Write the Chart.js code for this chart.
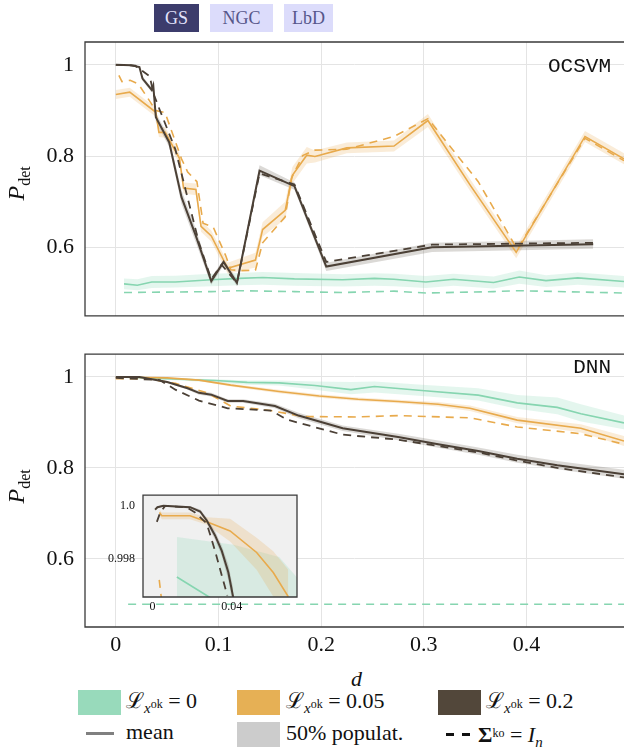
<!DOCTYPE html>
<html>
<head>
<meta charset="utf-8">
<script src="https://cdn.jsdelivr.net/npm/chart.js@4.4.0/dist/chart.umd.min.js"></script>
<style>
  html, body { margin: 0; padding: 0; background: #fff; }
  body { width: 624px; height: 750px; position: relative; overflow: hidden; font-family: "Liberation Serif", serif; color: #111; }
  canvas { position: absolute; }
  .btn { position: absolute; top: 4px; height: 28px; line-height: 29px; text-align: center; font-size: 18px; }
  .tag { position: absolute; font-family: "Liberation Mono", monospace; font-size: 21px; }
  .ylab { position: absolute; font-size: 24px; transform: rotate(-90deg); transform-origin: center; white-space: nowrap; }
  .sw { position: absolute; width: 43px; height: 25px; }
  .lt { position: absolute; font-size: 22px; line-height: 26px; white-space: nowrap; }
  .lt sub { font-size: 15px; vertical-align: -5px; }
  .lt sup { font-size: 12px; vertical-align: 5px; }
</style>
</head>
<body>
<div class="btn" style="left:154px;width:45px;background:#3c3c6c;color:#e2e2fb;">GS</div>
<div class="btn" style="left:210px;width:63px;background:#dcdcfb;color:#56568a;">NGC</div>
<div class="btn" style="left:284px;width:49px;background:#dcdcfb;color:#56568a;">LbD</div>

<canvas id="ocsvm" width="624" height="340" style="left:0;top:0;"></canvas>
<canvas id="dnn" width="624" height="330" style="left:0;top:330px;"></canvas>
<canvas id="inset" width="210" height="140" style="left:100px;top:480px;"></canvas>

<div class="tag" style="right:13px;top:55px;">OCSVM</div>
<div class="tag" style="right:13px;top:356px;">DNN</div>
<div class="ylab" style="left:1px;top:168px;"><i>P</i><sub style="font-size:16px">det</sub></div>
<div class="ylab" style="left:1px;top:471px;"><i>P</i><sub style="font-size:16px">det</sub></div>
<div class="lt" style="left:351px;top:666px;"><i>d</i></div>

<!-- legend -->
<div class="sw" style="left:78px;top:690px;background:#98dabb;"></div>
<div class="lt" style="left:126px;top:688px;">ℒ<sub><i>x</i><sup>ok</sup></sub> = 0</div>
<div class="sw" style="left:237px;top:690px;background:#e6b055;"></div>
<div class="lt" style="left:286px;top:688px;">ℒ<sub><i>x</i><sup>ok</sup></sub> = 0.05</div>
<div class="sw" style="left:438px;top:690px;background:#52473a;"></div>
<div class="lt" style="left:486px;top:688px;">ℒ<sub><i>x</i><sup>ok</sup></sub> = 0.2</div>
<div style="position:absolute;left:86px;top:732px;width:28px;height:3px;background:#808080;"></div>
<div class="lt" style="left:126px;top:719px;">mean</div>
<div class="sw" style="left:237px;top:722px;background:#cccccc;"></div>
<div class="lt" style="left:286px;top:720px;">50% populat.</div>
<div style="position:absolute;left:446px;top:733px;width:8px;height:3px;background:#111;"></div>
<div style="position:absolute;left:462px;top:733px;width:8px;height:3px;background:#111;"></div>
<div class="lt" style="left:478px;top:720px;"><b>Σ</b><sup>ko</sup> = <i>I</i><sub><i>n</i></sub></div>

<script>
// axis ticks
const xTicks = [0, 0.1, 0.2, 0.3, 0.4];
const yTicks = [0.6, 0.8, 1];
const insetXTicks = [0, 0.04];
const insetYTicks = [0.998, 1.0];

// ---- OCSVM ----
const svDarkX = [0, 0.015, 0.023, 0.026, 0.035, 0.0365, 0.039, 0.052, 0.064, 0.078, 0.093, 0.105, 0.118, 0.140, 0.174, 0.205, 0.308, 0.465];
const svDark = [1.0, 0.999, 0.995, 0.97, 0.945, 0.955, 0.885, 0.83, 0.71, 0.625, 0.526, 0.568, 0.522, 0.768, 0.734, 0.558, 0.600, 0.607];
const svDarkHi = [1.0, 1.0, 0.997, 0.975, 0.95, 0.96, 0.895, 0.84, 0.725, 0.64, 0.534, 0.574, 0.53, 0.78, 0.742, 0.566, 0.61, 0.618];
const svDarkLo = [0.999, 0.998, 0.992, 0.965, 0.94, 0.95, 0.875, 0.82, 0.695, 0.61, 0.518, 0.56, 0.515, 0.758, 0.726, 0.548, 0.59, 0.597];
const svDarkDashX = [0, 0.019, 0.033, 0.037, 0.043, 0.058, 0.081, 0.093, 0.103, 0.118, 0.140, 0.174, 0.205, 0.308, 0.465];
const svDarkDash = [1.0, 0.998, 0.975, 0.935, 0.9, 0.815, 0.61, 0.53, 0.562, 0.522, 0.762, 0.738, 0.568, 0.606, 0.610];

const svOrangeX = [0, 0.0136, 0.039, 0.042, 0.048, 0.062, 0.066, 0.078, 0.083, 0.093, 0.109, 0.136, 0.143, 0.165, 0.172, 0.186, 0.194, 0.225, 0.271, 0.304, 0.345, 0.390, 0.457, 0.495];
const svOrange = [0.935, 0.94, 0.896, 0.852, 0.852, 0.795, 0.73, 0.727, 0.646, 0.625, 0.554, 0.572, 0.639, 0.681, 0.758, 0.802, 0.799, 0.818, 0.822, 0.878, 0.737, 0.589, 0.843, 0.794];
const svOrangeHi = [0.945, 0.95, 0.906, 0.862, 0.864, 0.807, 0.742, 0.74, 0.658, 0.637, 0.566, 0.588, 0.655, 0.7, 0.776, 0.82, 0.812, 0.83, 0.834, 0.892, 0.75, 0.602, 0.855, 0.806];
const svOrangeLo = [0.925, 0.93, 0.886, 0.842, 0.84, 0.783, 0.718, 0.714, 0.634, 0.613, 0.542, 0.556, 0.623, 0.662, 0.74, 0.784, 0.786, 0.806, 0.81, 0.864, 0.724, 0.576, 0.831, 0.782];
const svOrangeDashX = [0.003, 0.006, 0.014, 0.022, 0.039, 0.048, 0.064, 0.070, 0.079, 0.085, 0.095, 0.107, 0.112, 0.122, 0.136, 0.143, 0.165, 0.171, 0.182, 0.194, 0.225, 0.271, 0.304, 0.353, 0.391, 0.457, 0.495];
const svOrangeDash = [0.977, 0.963, 0.966, 0.958, 0.9, 0.895, 0.794, 0.765, 0.744, 0.653, 0.644, 0.582, 0.551, 0.549, 0.55, 0.61, 0.667, 0.751, 0.801, 0.813, 0.815, 0.843, 0.882, 0.744, 0.596, 0.839, 0.79];

const svGreenX = [0.008, 0.021, 0.035, 0.058, 0.093, 0.12, 0.143, 0.174, 0.221, 0.252, 0.271, 0.302, 0.329, 0.368, 0.393, 0.419, 0.45, 0.495];
const svGreen = [0.520, 0.517, 0.524, 0.524, 0.529, 0.532, 0.534, 0.531, 0.529, 0.532, 0.530, 0.524, 0.530, 0.523, 0.535, 0.527, 0.533, 0.525];
const svGreenHi = [0.532, 0.53, 0.537, 0.538, 0.542, 0.544, 0.546, 0.544, 0.541, 0.543, 0.542, 0.537, 0.542, 0.536, 0.549, 0.539, 0.545, 0.537];
const svGreenLo = [0.508, 0.506, 0.511, 0.512, 0.515, 0.517, 0.518, 0.516, 0.514, 0.516, 0.515, 0.511, 0.516, 0.51, 0.52, 0.513, 0.518, 0.512];
const svGreenDashX = [0.008, 0.093, 0.12, 0.174, 0.221, 0.271, 0.302, 0.368, 0.393, 0.495];
const svGreenDash = [0.501, 0.503, 0.505, 0.503, 0.501, 0.504, 0.5, 0.503, 0.505, 0.5];

// ---- DNN ----
const nnDarkX = [0, 0.023, 0.05, 0.07, 0.081, 0.093, 0.109, 0.124, 0.155, 0.178, 0.221, 0.275, 0.314, 0.353, 0.391, 0.43, 0.495];
const nnDark = [1.0, 1.0, 0.989, 0.975, 0.965, 0.961, 0.947, 0.947, 0.936, 0.915, 0.887, 0.868, 0.852, 0.837, 0.82, 0.806, 0.786];
const nnDarkHi = [1.0, 1.0, 0.991, 0.978, 0.969, 0.965, 0.951, 0.951, 0.941, 0.921, 0.893, 0.875, 0.86, 0.845, 0.829, 0.815, 0.796];
const nnDarkLo = [1.0, 0.999, 0.987, 0.972, 0.961, 0.957, 0.943, 0.943, 0.931, 0.909, 0.881, 0.861, 0.844, 0.829, 0.811, 0.797, 0.776];
const nnDarkDashX = [0, 0.043, 0.058, 0.081, 0.109, 0.151, 0.167, 0.198, 0.221, 0.275, 0.314, 0.353, 0.391, 0.43, 0.495];
const nnDarkDash = [0.998, 0.993, 0.972, 0.948, 0.931, 0.926, 0.906, 0.887, 0.873, 0.862, 0.848, 0.834, 0.816, 0.8, 0.779];

const nnOrangeX = [0, 0.05, 0.081, 0.112, 0.159, 0.198, 0.236, 0.275, 0.314, 0.345, 0.391, 0.453, 0.495];
const nnOrange = [1.0, 0.998, 0.993, 0.982, 0.968, 0.958, 0.951, 0.946, 0.94, 0.931, 0.905, 0.887, 0.859];
const nnOrangeHi = [1.0, 0.999, 0.995, 0.985, 0.972, 0.962, 0.955, 0.95, 0.945, 0.937, 0.912, 0.896, 0.87];
const nnOrangeLo = [1.0, 0.997, 0.991, 0.979, 0.964, 0.954, 0.947, 0.942, 0.935, 0.925, 0.898, 0.878, 0.848];
const nnOrangeDashX = [0, 0.031, 0.058, 0.089, 0.112, 0.151, 0.182, 0.236, 0.275, 0.345, 0.391, 0.453, 0.495];
const nnOrangeDash = [0.996, 0.996, 0.986, 0.965, 0.936, 0.926, 0.913, 0.912, 0.915, 0.91, 0.89, 0.875, 0.852];

const nnGreenX = [0.002, 0.031, 0.062, 0.097, 0.128, 0.159, 0.194, 0.229, 0.252, 0.298, 0.353, 0.391, 0.43, 0.453, 0.495];
const nnGreen = [1.0, 0.998, 0.995, 0.992, 0.988, 0.987, 0.981, 0.972, 0.979, 0.97, 0.96, 0.943, 0.933, 0.919, 0.899];
const nnGreenHi = [1.0, 0.999, 0.997, 0.995, 0.992, 0.992, 0.99, 0.989, 0.99, 0.983, 0.975, 0.96, 0.955, 0.94, 0.915];
const nnGreenLo = [0.999, 0.996, 0.992, 0.988, 0.983, 0.981, 0.972, 0.962, 0.966, 0.958, 0.948, 0.93, 0.918, 0.902, 0.885];
const nnGreenDashX = [0.012, 0.495];
const nnGreenDash = [0.5, 0.5];

// ---- inset (DNN, zoom near d = 0) ----
const inDarkX = [0.0013, 0.0025, 0.0055, 0.0190, 0.0241, 0.0274, 0.0316, 0.035, 0.0383, 0.0408];
const inDark = [0.99986, 0.99995, 1.0, 0.99995, 0.99979, 0.99945, 0.99889, 0.99831, 0.99751, 0.99656];
const inDarkHi = [0.9999, 0.99999, 1.00003, 0.99999, 0.99986, 0.99955, 0.99905, 0.9985, 0.9978, 0.9969];
const inDarkLo = [0.99982, 0.99991, 0.99997, 0.9999, 0.99972, 0.99935, 0.99873, 0.99812, 0.99722, 0.99622];
const inDarkDashX = [0.0022, 0.0039, 0.0064, 0.0173, 0.0215, 0.0274, 0.0316, 0.035, 0.0378];
const inDarkDash = [0.9994, 0.99975, 1.0, 0.99994, 0.99975, 0.99934, 0.99831, 0.99739, 0.99664];
const inOrangeX = [0.0035, 0.0047, 0.019, 0.0274, 0.0392, 0.0526, 0.061, 0.0686];
const inOrange = [0.99975, 0.99963, 0.99963, 0.9994, 0.99906, 0.99825, 0.9975, 0.99659];
const inOrangeHi = [0.99985, 0.99975, 0.99975, 0.99957, 0.99952, 0.9988, 0.9983, 0.9976];
const inOrangeLo = [0.99965, 0.9995, 0.9995, 0.99929, 0.99866, 0.9976, 0.9966, 0.9955];
const inOrangeDashX = [0.0034, 0.0047];
const inOrangeDash = [0.99722, 0.9964];
const inGreenX = [0.0123, 0.029, 0.05];
const inGreen = [0.99733, 0.99656, 0.9956];
const inGreenBandX = [0.0123, 0.041, 0.064, 0.0728, 0.08];
const inGreenHi = [0.99883, 0.99854, 0.99808, 0.99733, 0.997];
const inGreenLo = [0.996, 0.996, 0.996, 0.996, 0.996];

const GREEN = "#86d5b0", ORANGE = "#e8aa4c", DARK = "#4b4036";
const GREEN_BAND = "rgba(143,216,184,0.24)", ORANGE_BAND = "rgba(232,170,76,0.22)", DARK_BAND = "rgba(90,80,70,0.22)";

const pts = (xs, ys) => xs.map((x, i) => ({ x: x, y: ys[i] }));

function line(xs, ys, color, width, dashed) {
  return {
    data: pts(xs, ys), borderColor: color, borderWidth: width,
    borderDash: dashed ? [8, 6] : [], pointRadius: 0, fill: false, tension: 0,
  };
}
function band(xs, hi, lo, color) {
  return [
    { data: pts(xs, hi), borderWidth: 0, pointRadius: 0, backgroundColor: color, fill: "+1", tension: 0 },
    { data: pts(xs, lo), borderWidth: 0, pointRadius: 0, fill: false, tension: 0 },
  ];
}

const framePlugin = {
  id: "frame",
  beforeDraw(chart, args, opts) {
    if (!opts.bg) return;
    const a = chart.chartArea, c = chart.ctx;
    c.save(); c.fillStyle = opts.bg; c.fillRect(a.left, a.top, a.width, a.height); c.restore();
  },
  afterDraw(chart, args, opts) {
    const a = chart.chartArea, c = chart.ctx;
    c.save(); c.strokeStyle = "#3a3a3a"; c.lineWidth = 1.3;
    c.beginPath();
    if (opts.openRight) {
      c.moveTo(a.right + 5, a.top); c.lineTo(a.left, a.top);
      c.lineTo(a.left, a.bottom); c.lineTo(a.right + 5, a.bottom);
    } else {
      c.rect(a.left, a.top, a.width, a.height);
    }
    c.stroke(); c.restore();
  },
};

function makeOptions(cfg) {
  return {
    responsive: false, animation: false, devicePixelRatio: 1,
    layout: { padding: cfg.padding },
    plugins: {
      legend: { display: false }, tooltip: { enabled: false },
      filler: { drawTime: "beforeDatasetsDraw" },
      frame: { openRight: cfg.openRight, bg: cfg.bg },
    },
    scales: {
      x: {
        type: "linear", min: cfg.xMin, max: cfg.xMax,
        afterBuildTicks: (s) => { s.ticks = cfg.xTicks.map((v) => ({ value: v })); },
        afterFit: (s) => { s.height = cfg.xHeight; },
        grid: { display: cfg.grid, color: "#e4e4e4", drawTicks: false },
        border: { display: false },
        ticks: {
          display: cfg.xLabels, padding: cfg.xPad, color: "#111",
          font: { family: "Liberation Serif", size: cfg.fontSize },
          callback: (v) => (v === 0 ? "0" : String(+v.toFixed(2))),
        },
      },
      y: {
        type: "linear", min: cfg.yMin, max: cfg.yMax,
        afterBuildTicks: (s) => { s.ticks = cfg.yTicks.map((v) => ({ value: v })); },
        afterFit: (s) => { s.width = cfg.yWidth; },
        grid: { display: cfg.grid, color: "#e4e4e4", drawTicks: false },
        border: { display: false },
        ticks: {
          padding: cfg.yPad, color: "#111",
          font: { family: "Liberation Serif", size: cfg.fontSize },
          callback: cfg.yFmt,
        },
      },
    },
  };
}

const mainFmt = (v) => (v === 1 ? "1" : v.toFixed(1));

// OCSVM chart
new Chart(document.getElementById("ocsvm"), {
  type: "line",
  data: {
    datasets: [
      line(svDarkX, svDark, DARK, 2, false),
      line(svDarkDashX, svDarkDash, DARK, 1.8, true),
      line(svOrangeX, svOrange, ORANGE, 1.6, false),
      line(svOrangeDashX, svOrangeDash, ORANGE, 1.6, true),
      line(svGreenX, svGreen, GREEN, 1.6, false),
      line(svGreenDashX, svGreenDash, GREEN, 1.6, true),
      ...band(svDarkX, svDarkHi, svDarkLo, DARK_BAND),
      ...band(svOrangeX, svOrangeHi, svOrangeLo, ORANGE_BAND),
      ...band(svGreenX, svGreenHi, svGreenLo, GREEN_BAND),
    ],
  },
  options: makeOptions({
    padding: { top: 42, left: 0, right: 0, bottom: 0 }, openRight: true, grid: true,
    xMin: -0.03, xMax: 0.495, yMin: 0.45, yMax: 1.05, xTicks: xTicks, yTicks: yTicks,
    xHeight: 15, yWidth: 85, xLabels: false, xPad: 0, yPad: 11, fontSize: 22, yFmt: mainFmt,
  }),
  plugins: [framePlugin],
});

// DNN chart
new Chart(document.getElementById("dnn"), {
  type: "line",
  data: {
    datasets: [
      line(nnDarkX, nnDark, DARK, 2, false),
      line(nnDarkDashX, nnDarkDash, DARK, 1.8, true),
      line(nnOrangeX, nnOrange, ORANGE, 1.6, false),
      line(nnOrangeDashX, nnOrangeDash, ORANGE, 1.6, true),
      line(nnGreenX, nnGreen, GREEN, 1.6, false),
      line(nnGreenDashX, nnGreenDash, GREEN, 1.6, true),
      ...band(nnDarkX, nnDarkHi, nnDarkLo, DARK_BAND),
      ...band(nnOrangeX, nnOrangeHi, nnOrangeLo, ORANGE_BAND),
      ...band(nnGreenX, nnGreenHi, nnGreenLo, GREEN_BAND),
    ],
  },
  options: makeOptions({
    padding: { top: 14, left: 0, right: 0, bottom: 0 }, openRight: true, grid: true,
    xMin: -0.03, xMax: 0.495, yMin: 0.45, yMax: 1.05, xTicks: xTicks, yTicks: yTicks,
    xHeight: 33, yWidth: 85, xLabels: true, xPad: 5, yPad: 11, fontSize: 22, yFmt: mainFmt,
  }),
  plugins: [framePlugin],
});

// inset
new Chart(document.getElementById("inset"), {
  type: "line",
  data: {
    datasets: [
      line(inDarkX, inDark, DARK, 2, false),
      line(inDarkDashX, inDarkDash, DARK, 1.8, true),
      line(inOrangeX, inOrange, ORANGE, 1.6, false),
      line(inOrangeDashX, inOrangeDash, ORANGE, 1.6, true),
      line(inGreenX, inGreen, GREEN, 1.6, false),
      ...band(inDarkX, inDarkHi, inDarkLo, DARK_BAND),
      ...band(inOrangeX, inOrangeHi, inOrangeLo, ORANGE_BAND),
      ...band(inGreenBandX, inGreenHi, inGreenLo, GREEN_BAND),
    ],
  },
  options: makeOptions({
    padding: { top: 6, left: 0, right: 13, bottom: 0 }, openRight: false, grid: false, bg: "#f0f0f0",
    xMin: -0.0048, xMax: 0.073, yMin: 0.99658, yMax: 1.0004, xTicks: insetXTicks, yTicks: insetYTicks,
    xHeight: 23, yWidth: 43, xLabels: true, xPad: 3, yPad: 8, fontSize: 12,
    yFmt: (v) => (v === 1 ? "1.0" : v.toFixed(3)),
  }),
  plugins: [framePlugin],
});
</script>
</body>
</html>
